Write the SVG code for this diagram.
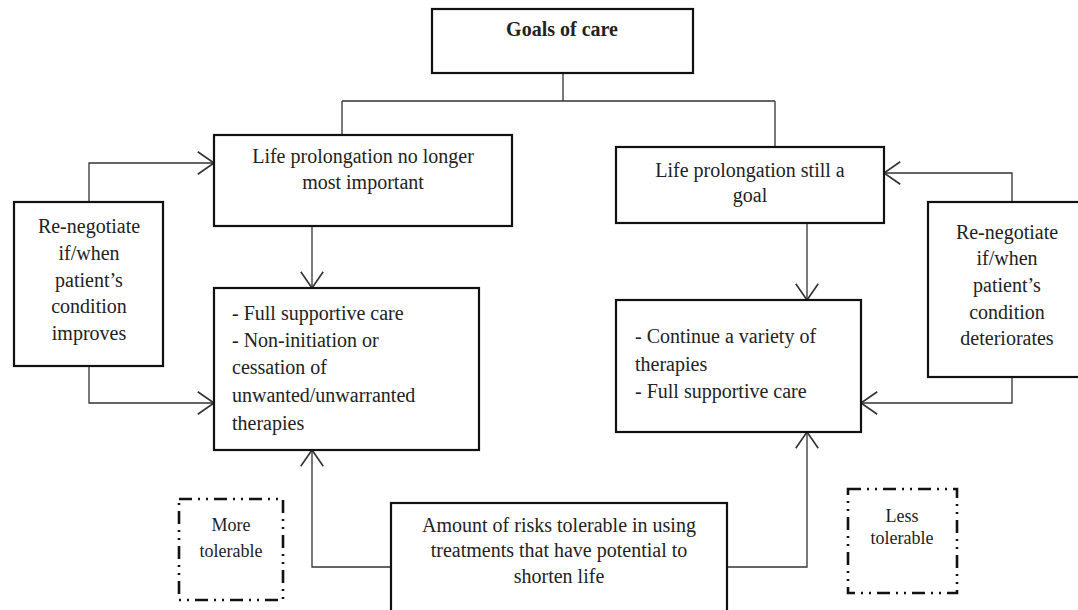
<svg xmlns="http://www.w3.org/2000/svg" width="1078" height="610" viewBox="0 0 1078 610">
<defs>
<marker id="arr" markerUnits="userSpaceOnUse" markerWidth="30" markerHeight="30" viewBox="-15 -12 17 24" refX="0" refY="0" orient="auto">
<path d="M-13,-9 L0,0 L-13,9" fill="none" stroke="#333" stroke-width="1.3"/>
</marker>
<style>
.box{fill:#fff;stroke:#111;stroke-width:2.2}
.dbox{fill:none;stroke:#111;stroke-width:2.6;stroke-dasharray:13 6 2 6 2 6}
.t{font-family:'Liberation Serif','Tinos','DejaVu Serif',serif;font-size:20px;fill:#222}
.c{text-anchor:middle}
.s{font-size:18px}
.b{font-weight:bold}
.ln{fill:none;stroke:#333;stroke-width:1.3}
.ar{fill:none;stroke:#333;stroke-width:1.3;marker-end:url(#arr)}
</style>
</defs>
<rect width="1078" height="610" fill="#fff"/>
<g id="connectors">
<path class="ln" d="M563,73 V101 M342,101 H775 M342,101 V135 M775,101 V147"/>
<path class="ar" d="M312,226 V288"/>
<path class="ar" d="M807,223 V300"/>
<path class="ar" d="M89,202 V163 H214"/>
<path class="ar" d="M89,366 V403 H214"/>
<path class="ar" d="M1012,202 V173 H884"/>
<path class="ar" d="M1012,377 V403 H861"/>
<path class="ar" d="M391,567 H312 V450"/>
<path class="ar" d="M727,567 H807 V432"/>
</g>
<g id="goals">
<rect class="box" x="432" y="9" width="261" height="64"/>
<text class="t c b" x="562" y="36">Goals of care</text>
</g>
<g id="no-longer">
<rect class="box" x="214" y="135" width="298" height="91"/>
<text class="t c" x="363" y="163">Life prolongation no longer</text>
<text class="t c" x="363" y="189">most important</text>
</g>
<g id="still-goal">
<rect class="box" x="616" y="147" width="268" height="76"/>
<text class="t c" x="750" y="177">Life prolongation still a</text>
<text class="t c" x="750" y="202">goal</text>
</g>
<g id="renegotiate-improves">
<rect class="box" x="14" y="202" width="149" height="164"/>
<text class="t c" x="89" y="233">Re-negotiate</text>
<text class="t c" x="89" y="260">if/when</text>
<text class="t c" x="89" y="287">patient’s</text>
<text class="t c" x="89" y="313">condition</text>
<text class="t c" x="89" y="340">improves</text>
</g>
<g id="renegotiate-deteriorates">
<rect class="box" x="928" y="202" width="157" height="175"/>
<text class="t c" x="1007" y="239">Re-negotiate</text>
<text class="t c" x="1007" y="265">if/when</text>
<text class="t c" x="1007" y="292">patient’s</text>
<text class="t c" x="1007" y="319">condition</text>
<text class="t c" x="1007" y="345">deteriorates</text>
</g>
<g id="supportive-left">
<rect class="box" x="214" y="288" width="265" height="162"/>
<text class="t" x="232" y="320">- Full supportive care</text>
<text class="t" x="232" y="347">- Non-initiation or</text>
<text class="t" x="232" y="374">cessation of</text>
<text class="t" x="232" y="402">unwanted/unwarranted</text>
<text class="t" x="232" y="430">therapies</text>
</g>
<g id="therapies-right">
<rect class="box" x="616" y="300" width="245" height="132"/>
<text class="t" x="635" y="343">- Continue a variety of</text>
<text class="t" x="635" y="371">therapies</text>
<text class="t" x="635" y="398">- Full supportive care</text>
</g>
<g id="risks">
<rect class="box" x="391" y="503" width="336" height="112"/>
<text class="t c" x="559" y="532">Amount of risks tolerable in using</text>
<text class="t c" x="559" y="557">treatments that have potential to</text>
<text class="t c" x="559" y="583">shorten life</text>
</g>
<g id="more-tolerable">
<rect class="dbox" x="179" y="499" width="104" height="101"/>
<text class="t c s" x="231" y="531">More</text>
<text class="t c s" x="231" y="557">tolerable</text>
</g>
<g id="less-tolerable">
<rect class="dbox" x="848" y="489" width="109" height="104"/>
<text class="t c s" x="902" y="522">Less</text>
<text class="t c s" x="902" y="544">tolerable</text>
</g>
</svg>
